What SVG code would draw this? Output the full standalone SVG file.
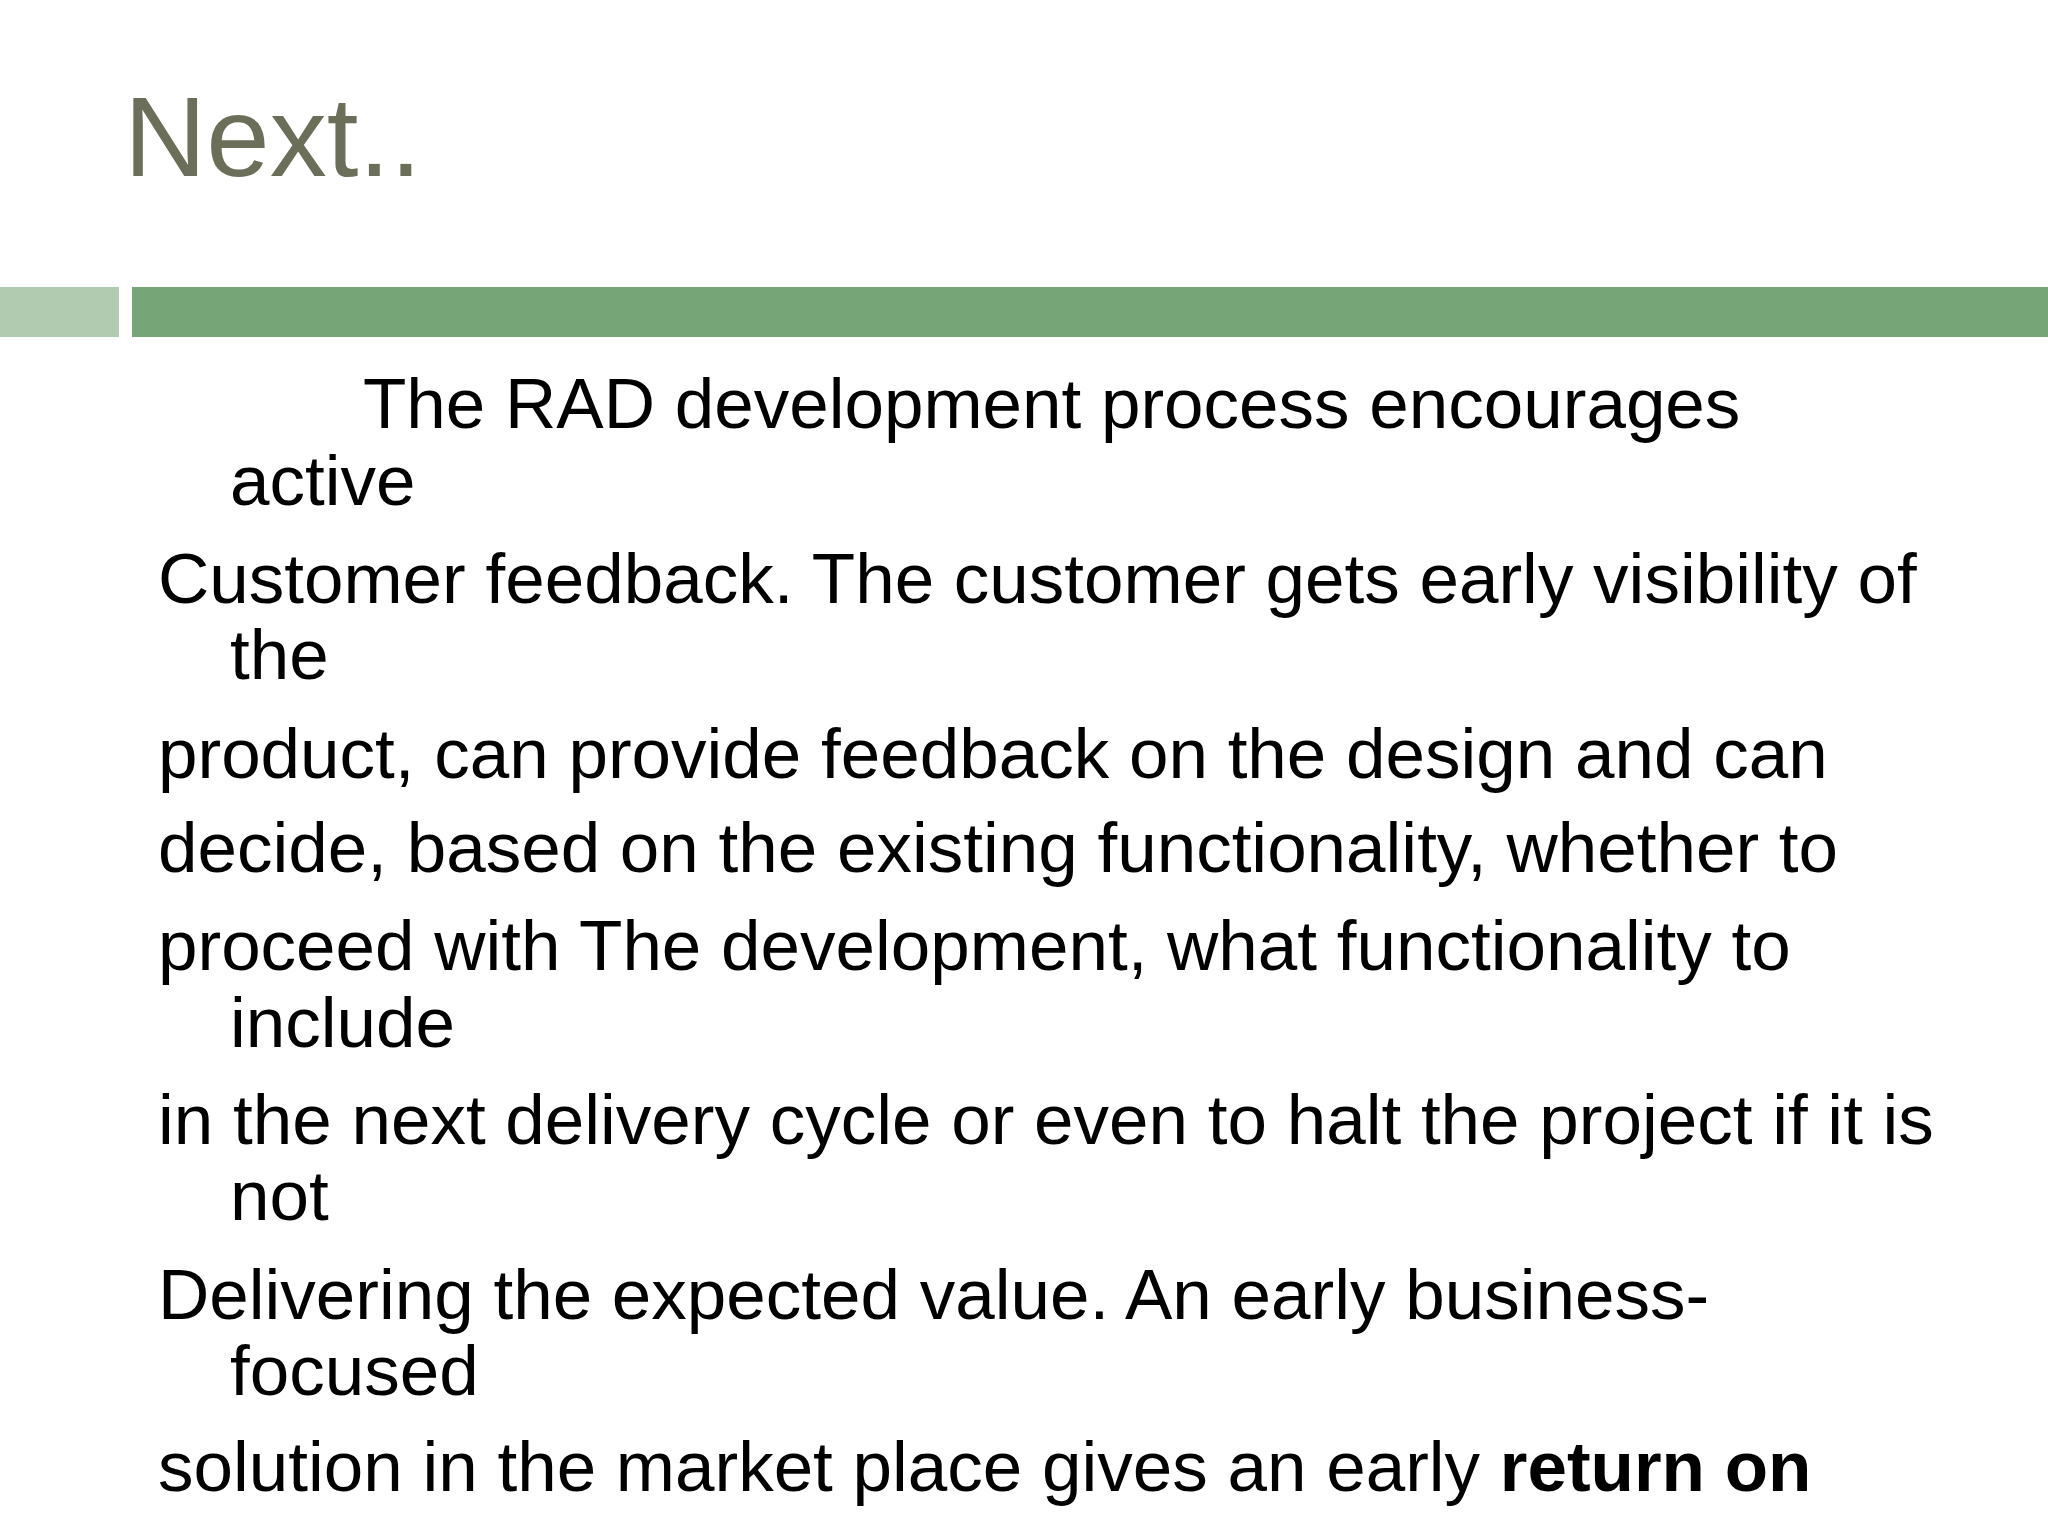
<svg xmlns="http://www.w3.org/2000/svg" width="2048" height="1536" viewBox="0 0 2048 1536">
<style>
.b{font-family:"Liberation Sans",Arial,sans-serif;font-size:71px;fill:#000}
</style>
<rect width="2048" height="1536" fill="#fff"/>
<text x="124" y="176" font-family="Liberation Sans,Arial,sans-serif" font-size="114" fill="#6b6f5a">Next..</text>
<rect x="0" y="287" width="119" height="50" fill="#b0cbb0"/>
<rect x="132" y="287" width="1916" height="50" fill="#76a577"/>
<g class="b" xml:space="preserve">
<text class="b" x="363" y="428">The RAD development process encourages</text>
<text class="b" x="230" y="505">active</text>
<text class="b" x="158" y="603">Customer feedback. The customer gets early visibility of</text>
<text class="b" x="230" y="679">the</text>
<text class="b" x="158" y="778">product, can provide feedback on the design and can</text>
<text class="b" x="158" y="872">decide,  based on the existing functionality, whether to</text>
<text class="b" x="158" y="970">proceed with The development, what functionality to</text>
<text class="b" x="230" y="1047">include</text>
<text class="b" x="158" y="1144">in the next delivery cycle or even to halt the project if it is</text>
<text class="b" x="230" y="1220">not</text>
<text class="b" x="158" y="1319">Delivering the expected value. An early business-</text>
<text class="b" x="230" y="1395">focused</text>
<text class="b" x="158" y="1491">solution in the market place gives an early <tspan font-weight="bold">return on</tspan></text>
</g>
</svg>
